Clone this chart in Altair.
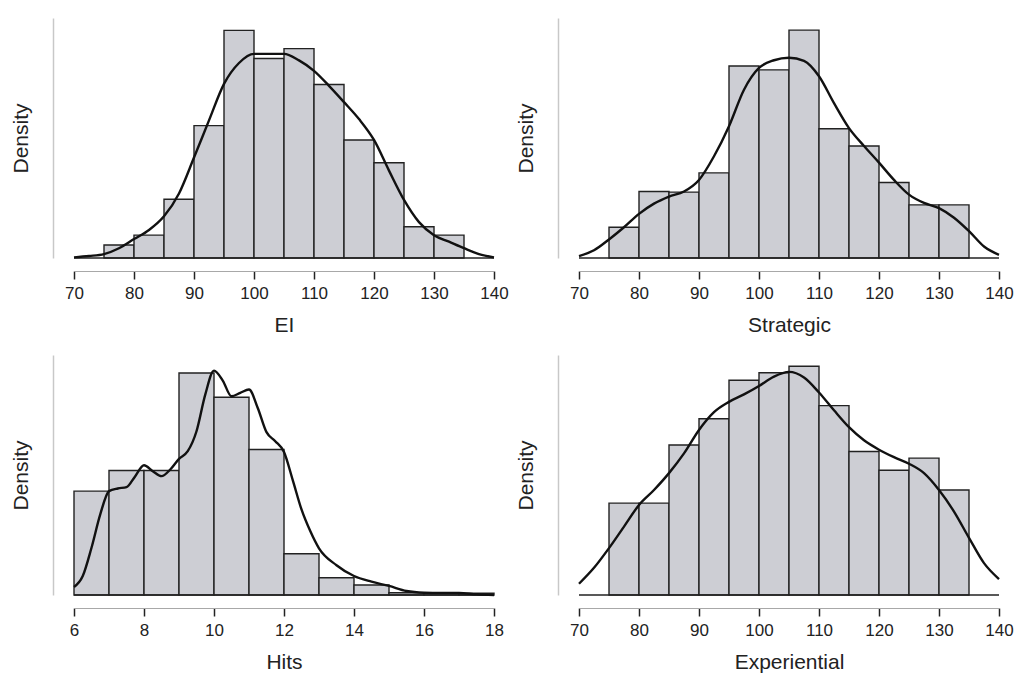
import altair as alt
import pandas as pd

# ---------------- data (densities) ----------------
# EI
ei_bin_start = [75, 80, 85, 90, 95, 100, 105, 110, 115, 120, 125, 130]
ei_density = [0.0020, 0.0035, 0.0090, 0.0203, 0.0349, 0.0306, 0.0321, 0.0266, 0.0181, 0.0146, 0.0048, 0.0035]
ei_curve_x = [70, 72.5, 75, 77.5, 80, 82.5, 85, 87.5, 90, 92.5, 95, 97.5, 100, 102.5, 105,
              107.5, 110, 112.5, 115, 117.5, 120, 122.5, 125, 127.5, 130, 132.5, 135, 137.5, 140]
ei_curve_y = [0.0001, 0.0003, 0.0006, 0.0015, 0.0029, 0.0043, 0.0064, 0.0099, 0.0154, 0.0211,
              0.0267, 0.0299, 0.0313, 0.0313, 0.0313, 0.0303, 0.0287, 0.0264, 0.0239, 0.0213,
              0.0181, 0.0134, 0.0089, 0.0055, 0.0035, 0.0025, 0.0015, 0.0006, 0.0001]

# Strategic
st_bin_start = [75, 80, 85, 90, 95, 100, 105, 110, 115, 120, 125, 130]
st_density = [0.0048, 0.0104, 0.0103, 0.0133, 0.0300, 0.0294, 0.0356, 0.0202, 0.0175, 0.0118, 0.0083, 0.0083]
st_curve_x = [70, 72.5, 75, 77.5, 80, 82.5, 85, 87.5, 90, 92.5, 95, 97.5, 100, 102.5, 105,
              107.5, 110, 112.5, 115, 117.5, 120, 122.5, 125, 127.5, 130, 132.5, 135, 137.5, 140]
st_curve_y = [0.0003, 0.0012, 0.0029, 0.0048, 0.0069, 0.0085, 0.0096, 0.0104, 0.0122, 0.0159,
              0.0206, 0.0263, 0.0297, 0.0309, 0.0313, 0.0308, 0.0284, 0.0242, 0.0203, 0.0175,
              0.0149, 0.0122, 0.0099, 0.0086, 0.0078, 0.0063, 0.0042, 0.0018, 0.0005]

# Hits
hi_bin_start = [6, 7, 8, 9, 10, 11, 12, 13, 14, 15, 16, 17]
hi_density = [0.1046, 0.1254, 0.1254, 0.2236, 0.1991, 0.1465, 0.0415, 0.0174, 0.0101, 0.0023, 0.0023, 0.0017]
hi_curve_x = [6.0, 6.25, 6.5, 6.75, 7.0, 7.25, 7.5, 7.75, 8.0, 8.25, 8.5, 8.75, 9.0, 9.25, 9.5,
              9.75, 10.0, 10.25, 10.5, 10.75, 11.0, 11.25, 11.5, 11.75, 12.0, 12.25, 12.5, 12.75,
              13.0, 13.5, 14.0, 14.5, 15.0, 15.5, 16.0, 16.5, 17.0, 17.5, 18.0]
hi_curve_y = [0.0080, 0.0191, 0.0476, 0.0812, 0.1046, 0.1073, 0.1086, 0.1197, 0.1307, 0.1247,
              0.1197, 0.1264, 0.1371, 0.1448, 0.1649, 0.2018, 0.2260, 0.2159, 0.2001, 0.2035,
              0.2069, 0.1884, 0.1640, 0.1549, 0.1440, 0.1157, 0.0862, 0.0644, 0.0470, 0.0300,
              0.0191, 0.0134, 0.0091, 0.0040, 0.0023, 0.0020, 0.0020, 0.0007, 0.0000]

# Experiential
ex_bin_start = [75, 80, 85, 90, 95, 100, 105, 110, 115, 120, 125, 130]
ex_density = [0.0098, 0.0098, 0.0160, 0.0188, 0.0229, 0.0237, 0.0244, 0.0202, 0.0153, 0.0133, 0.0146, 0.0112]
ex_curve_x = [70, 72.5, 75, 77.5, 80, 82.5, 85, 87.5, 90, 92.5, 95, 97.5, 100, 102.5, 105,
              107.5, 110, 112.5, 115, 117.5, 120, 122.5, 125, 127.5, 130, 132.5, 135, 137.5, 140]
ex_curve_y = [0.0012, 0.0029, 0.0050, 0.0073, 0.0096, 0.0112, 0.0130, 0.0151, 0.0176, 0.0195,
              0.0206, 0.0214, 0.0223, 0.0233, 0.0238, 0.0232, 0.0216, 0.0197, 0.0179, 0.0165,
              0.0155, 0.0147, 0.0140, 0.0130, 0.0112, 0.0089, 0.0061, 0.0034, 0.0017]

score_ticks = [70, 80, 90, 100, 110, 120, 130, 140]
hits_ticks = [6, 8, 10, 12, 14, 16, 18]

BAR_FILL = "#cdced4"
INK = "#222222"
W, H = 420, 240


def panel(title, starts, dens, bw, cx, cy, ticks, ymax):
    bars = pd.DataFrame({"x0": starts, "x1": [s + bw for s in starts], "d": dens})
    curve = pd.DataFrame({"x": cx, "y": cy})
    base = pd.DataFrame({"a": [ticks[0]], "b": [ticks[-1]], "z": [0]})
    xs = alt.Scale(domain=[ticks[0], ticks[-1]], nice=False, zero=False)
    ys = alt.Scale(domain=[0, ymax], nice=False)
    xaxis = alt.Axis(values=ticks, offset=13, domainColor="#a8a8a8", domainWidth=1,
                     tickColor=INK, tickSize=8, tickWidth=1.5, labelFontSize=17,
                     labelColor=INK, labelPadding=6, titleFontSize=21, titleColor=INK,
                     titleFontWeight="normal", titlePadding=13, grid=False, labelFlush=False)
    yaxis = alt.Axis(ticks=False, labels=False, domainColor="#c8c8c8", domainWidth=1.5,
                     offset=21, grid=False, titleFontSize=21, titleColor=INK,
                     titleFontWeight="normal", titlePadding=22)
    r = alt.Chart(bars).mark_rect(fill=BAR_FILL, stroke=INK, strokeWidth=1.4).encode(
        x=alt.X("x0:Q", scale=xs, axis=xaxis, title=title),
        x2="x1:Q",
        y=alt.Y("d:Q", scale=ys, axis=yaxis, title="Density"),
        y2=alt.datum(0),
    )
    b = alt.Chart(base).mark_rule(color=INK, strokeWidth=1.5).encode(
        x=alt.X("a:Q", scale=xs), x2="b:Q", y=alt.Y("z:Q", scale=ys))
    l = alt.Chart(curve).mark_line(color="#111111", strokeWidth=2.4, interpolate="monotone").encode(
        x=alt.X("x:Q", scale=xs), y=alt.Y("y:Q", scale=ys))
    return alt.layer(r, b, l).properties(width=W, height=H)


p1 = panel("EI", ei_bin_start, ei_density, 5, ei_curve_x, ei_curve_y, score_ticks, 0.0368)
p2 = panel("Strategic", st_bin_start, st_density, 5, st_curve_x, st_curve_y, score_ticks, 0.0375)
p3 = panel("Hits", hi_bin_start, hi_density, 1, hi_curve_x, hi_curve_y, hits_ticks, 0.2417)
p4 = panel("Experiential", ex_bin_start, ex_density, 5, ex_curve_x, ex_curve_y, score_ticks, 0.0256)

chart = alt.concat(p1, p2, p3, p4, columns=2, spacing={"row": 97, "column": 85},
                   bounds="flush").properties(
    padding={"left": 10, "top": 18, "right": 5, "bottom": 5}
).configure(font="Liberation Sans").configure_view(stroke=None)

chart.save("out.html", embed_options={"renderer": "svg", "actions": False})
